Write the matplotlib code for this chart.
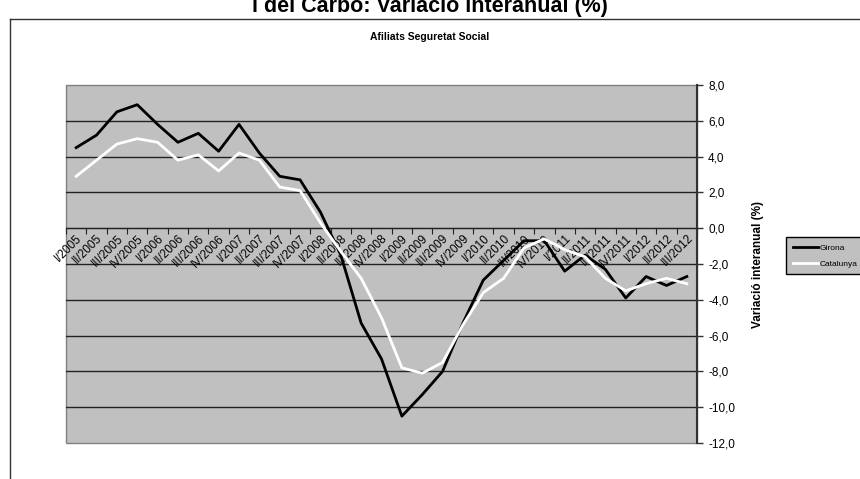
import matplotlib
matplotlib.use("Agg")
import matplotlib.pyplot as plt
from matplotlib.lines import Line2D
from matplotlib.ticker import FuncFormatter

plt.rcParams['font.family'] = ['Liberation Sans', 'DejaVu Sans']

# trimestres
trimestres = []
for any_ in range(2005, 2013):
    for q in ['I', 'II', 'III', 'IV']:
        trimestres.append(f'{q}/{any_}')
trimestres = trimestres[:31]  # fins a III/2012

girona = [4.5, 5.2, 6.5, 6.9, 5.8, 4.8, 5.3, 4.3, 5.8, 4.2, 2.9, 2.7,
          0.9, -1.5, -5.3, -7.3, -10.5, -9.3, -8.0, -5.3, -2.9, -1.8,
          -0.7, -0.7, -2.4, -1.5, -2.3, -3.9, -2.7, -3.2, -2.7]
catalunya = [2.9, 3.8, 4.7, 5.0, 4.8, 3.8, 4.1, 3.2, 4.2, 3.8, 2.3, 2.1,
             0.3, -1.3, -2.8, -5.0, -7.8, -8.1, -7.5, -5.4, -3.6, -2.8,
             -1.1, -0.6, -1.2, -1.6, -2.8, -3.5, -3.1, -2.8, -3.1]

x = list(range(len(trimestres)))

fig = plt.figure(figsize=(8.6, 4.79), dpi=100)
ax = fig.add_axes([66 / 860, 1 - 443 / 479, 631 / 860, 358 / 479])
ax.set_facecolor('#C0C0C0')
ax.patch.set_edgecolor('#808080')
ax.patch.set_linewidth(1)

for y in range(-10, 8, 2):
    ax.axhline(y, color='#222222', lw=1, zorder=1)

ax.plot(x, girona, color='black', lw=2, label='Girona', zorder=3)
ax.plot(x, catalunya, color='white', lw=2, label='Catalunya', zorder=3)

ax.set_xlim(-0.5, len(x) - 0.5)
ax.set_ylim(-12, 8)
ax.set_yticks(range(-12, 9, 2))
ax.yaxis.set_major_formatter(FuncFormatter(lambda v, p: f'{v:.1f}'.replace('.', ',')))
ax.yaxis.tick_right()
ax.yaxis.set_label_position('right')
ax.tick_params(axis='y', direction='out', length=4, width=1, color='#333333',
               labelsize=8.5, pad=4)
ax.set_ylabel('Variació interanual (%)', fontsize=8.5, fontweight='bold', labelpad=12)

# eix x a la línia del zero
for s in ['top', 'left']:
    ax.spines[s].set_visible(False)
ax.spines['bottom'].set_position(('data', 0))
ax.spines['bottom'].set_color('#222222')
ax.spines['right'].set_color('#333333')
ax.spines['right'].set_linewidth(1.5)

ax.set_xticks([i - 0.5 for i in range(len(x) + 1)])
ax.set_xticklabels([])
ax.tick_params(axis='x', which='major', direction='out', length=4, color='#222222')
ax.set_xticks(x, minor=True)
ax.set_xticklabels(trimestres, minor=True, rotation=45, ha='right',
                   rotation_mode='anchor', fontsize=8.5)
ax.tick_params(axis='x', which='minor', length=0, pad=3)

fig.text(0.5, 1 - 12 / 479, 'l del Carbó: Variació interanual (%)', ha='center',
         va='baseline', fontsize=15.5, fontweight='bold')
fig.text(0.5, 1 - 37 / 479, 'Afiliats Seguretat Social', ha='center', va='center',
         fontsize=7.5, fontweight='bold')

# marc del gràfic
fig.add_artist(Line2D([9.5 / 860, 9.5 / 860], [0, 1 - 18.5 / 479], color='#333333', lw=1))
fig.add_artist(Line2D([9.5 / 860, 1], [1 - 18.5 / 479, 1 - 18.5 / 479], color='#333333', lw=1))

leg = fig.legend(loc='upper left', bbox_to_anchor=(786 / 860, 1 - 237 / 479),
                 borderaxespad=0, fontsize=6, frameon=True, fancybox=False,
                 handlelength=3, handletextpad=0.2, labelspacing=1.0,
                 borderpad=0.8)
leg.get_frame().set_facecolor('#C0C0C0')
leg.get_frame().set_edgecolor('black')
leg.get_frame().set_linewidth(1)
leg.get_frame().set_alpha(1)

fig.savefig('out.png', dpi=100)
